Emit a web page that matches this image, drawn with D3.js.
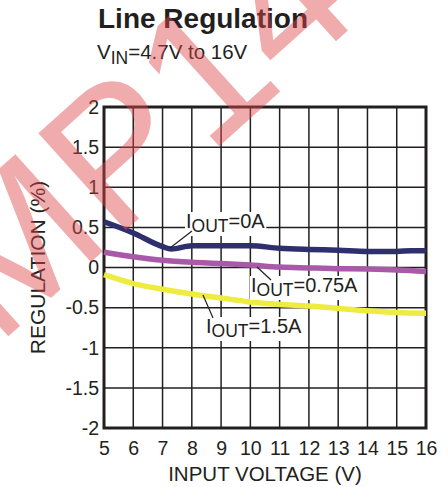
<!DOCTYPE html>
<html><head><meta charset="utf-8">
<script src="https://cdn.jsdelivr.net/npm/d3@7"></script>
<style>body{margin:0;background:#fff}svg{display:block}text{font-family:"Liberation Sans",Arial,sans-serif;fill:#231f20}</style>
</head><body>
<svg id="c" width="448" height="487"></svg>
<script>
const xTicks = [5,6,7,8,9,10,11,12,13,14,15,16];
const yTicks = [-2,-1.5,-1,-0.5,0,0.5,1,1.5,2];
const yTickLabels = ["-2","-1.5","-1","-0.5","0","0.5","1","1.5","2"];
const vin = [5,6,7,7.3,8,9,10,11,12,13,14,15,15.5,16];
const iout0 = [0.57,0.43,0.26,0.23,0.27,0.27,0.27,0.24,0.225,0.215,0.2,0.2,0.21,0.21];
const vin2 = [5,6,7,8,9,10,11,12,13,14,15,16];
const iout075 = [0.19,0.135,0.09,0.065,0.05,0.03,0.005,-0.005,-0.015,-0.02,-0.03,-0.05];
const iout15 = [-0.09,-0.2,-0.27,-0.33,-0.38,-0.43,-0.46,-0.48,-0.51,-0.54,-0.56,-0.57];
const seriesNames = ["0A","0.75A","1.5A"];
const colors = ["#2e2f6c","#a85aa8","#eeec40"];

const svg = d3.select("#c");
const L=104,R=426,T=107,B=428;
const x = d3.scaleLinear().domain([5,16]).range([L,R]);
const y = d3.scaleLinear().domain([-2,2]).range([B,T]);

// grid
const g = svg.append("g");
g.selectAll(".vx").data(xTicks).join("line").attr("x1",d=>x(d)).attr("x2",d=>x(d))
  .attr("y1",T).attr("y2",B).attr("stroke","#231f20").attr("stroke-width",1.5);
g.selectAll(".hy").data(yTicks).join("line").attr("y1",d=>y(d)).attr("y2",d=>y(d))
  .attr("x1",L).attr("x2",R).attr("stroke","#231f20").attr("stroke-width",1.5);
g.append("rect").attr("x",L).attr("y",T).attr("width",R-L).attr("height",B-T)
  .attr("fill","none").attr("stroke","#231f20").attr("stroke-width",3);

// axes labels via d3 axes
const xa = svg.append("g").attr("transform",`translate(0,${B})`)
  .call(d3.axisBottom(x).tickValues(xTicks).tickSize(0).tickPadding(13).tickFormat(d3.format("d")));
xa.select(".domain").remove();
xa.selectAll("text").attr("font-size",19.5).style("font-family","Liberation Sans, Arial").style("fill","#231f20");
const ya = svg.append("g").attr("transform",`translate(${L},0)`)
  .call(d3.axisLeft(y).tickValues(yTicks).tickSize(0).tickPadding(5).tickFormat((d,i)=>yTickLabels[i]));
ya.select(".domain").remove();
ya.selectAll("text").attr("font-size",19.5).style("font-family","Liberation Sans, Arial").style("fill","#231f20");

// lines
const line = d3.line().x(d=>x(d[0])).y(d=>y(d[1])).curve(d3.curveMonotoneX);
const data = [d3.zip(vin,iout0), d3.zip(vin2,iout075), d3.zip(vin2,iout15)];
svg.selectAll(".ln").data(data).join("path").attr("d",line).attr("fill","none")
  .attr("stroke",(d,i)=>colors[i]).attr("stroke-width",5.5).attr("stroke-linecap","butt");

// curve labels
const labels = [
  {s:0, tx:186, ty:228, lx1:192, ly1:231, lx2:170, ly2:248},
  {s:1, tx:251, ty:292, lx1:271, ly1:280, lx2:257, ly2:267},
  {s:2, tx:206, ty:333, lx1:213, ly1:318, lx2:203, ly2:295}
];
labels.forEach(l=>{
  const t = svg.append("text").attr("x",l.tx).attr("y",l.ty).attr("font-size",20);
  t.append("tspan").text("I");
  t.append("tspan").attr("dy",4).attr("font-size",17.5).text("OUT");
  t.append("tspan").attr("dy",-4).text("="+seriesNames[l.s]);
  const bb = t.node().getBBox();
  svg.insert("rect", function(){return t.node();}).attr("x",bb.x-1).attr("y",bb.y+2)
    .attr("width",bb.width+2).attr("height",bb.height-2).attr("fill","#fff");
  svg.append("line").attr("x1",l.lx1).attr("y1",l.ly1).attr("x2",l.lx2).attr("y2",l.ly2)
    .attr("stroke","#231f20").attr("stroke-width",1.2);
});

// titles
svg.append("text").attr("x",98).attr("y",28).attr("font-size",28).attr("font-weight","bold").text("Line Regulation");
const st = svg.append("text").attr("x",97).attr("y",59).attr("font-size",20.5);
st.append("tspan").text("V");
st.append("tspan").attr("dy",5).attr("font-size",17.5).text("IN");
st.append("tspan").attr("dy",-5).text("=4.7V to 16V");
svg.append("text").attr("x",(L+R)/2).attr("y",481).attr("text-anchor","middle").attr("font-size",20.5).text("INPUT VOLTAGE (V)");
svg.append("text").attr("transform",`translate(45,${(T+B)/2}) rotate(-90)`).attr("text-anchor","middle")
  .attr("font-size",21).text("REGULATION (%)");

// watermark (semi-transparent, on top)
svg.append("text").attr("transform","translate(82,181) rotate(-42)")
  .attr("text-anchor","middle").attr("dominant-baseline","central")
  .attr("font-size",190).style("font-family","Liberation Sans")
  .style("fill","#e0474a").attr("opacity",0.45).text("OMP14");
</script>
</body></html>
